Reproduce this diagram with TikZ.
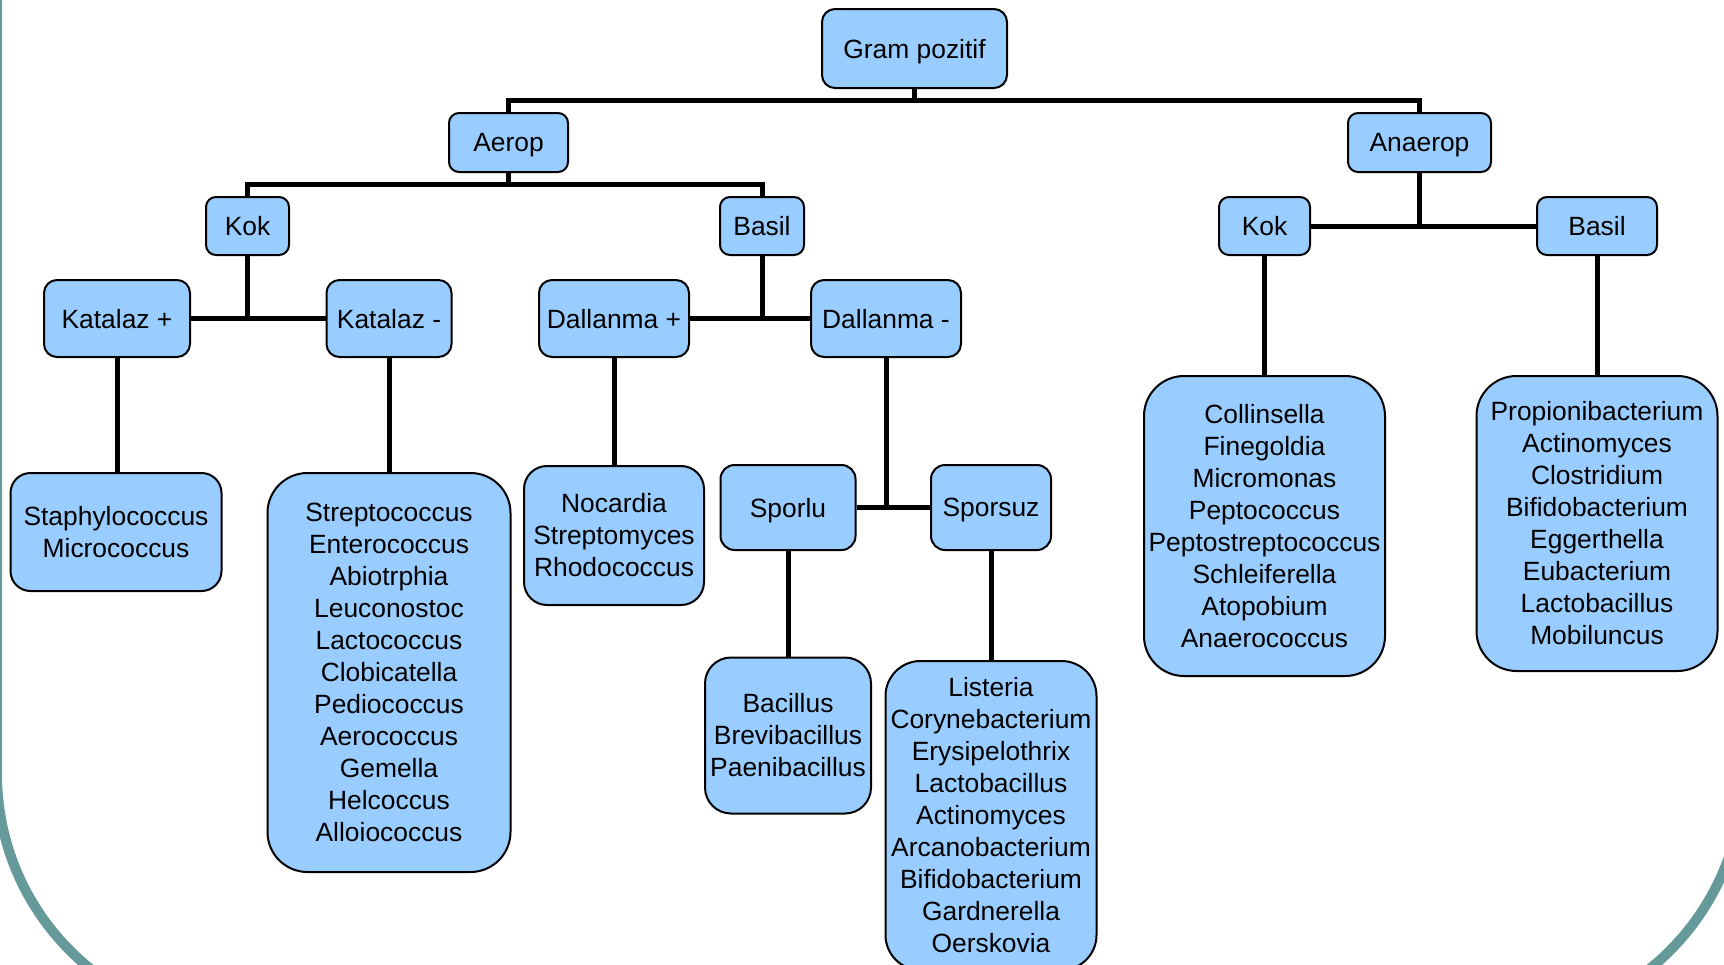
\documentclass[tikz,border=0pt]{standalone}
\usepackage{fontspec}
\setmainfont{Liberation Sans}
\definecolor{boxblue}{RGB}{153,204,255}
\definecolor{frameteal}{RGB}{102,153,153}
\newcommand\bxfont{\fontsize{26.4}{32}\selectfont}
\tikzset{
  bx/.style={draw=black, line width=2pt, fill=boxblue, rounded corners=#1, inner sep=0pt, align=center, font=\bxfont},
  one/.style={text depth=0pt},
  con/.style={line width=5pt, draw=black}
}
\begin{document}
\begin{tikzpicture}[x=1pt, y=-1pt]
\useasboundingbox (0,0) rectangle (1724,964);
\begin{scope}
  \clip (0,0) rectangle (1724,964);
  \draw[frameteal, line width=10pt, rounded corners=250pt] (-3,-300) rectangle (1743,1024);
\end{scope}

% nodes
\node[bx=13pt, one, minimum width=185pt, minimum height=79pt] (gram) at (914.5,48.5) {Gram pozitif};
\node[bx=10pt, one, minimum width=119pt, minimum height=59pt] (aerop) at (508.5,142.5) {Aerop};
\node[bx=10pt, one, minimum width=143pt, minimum height=59pt] (anaerop) at (1419.5,142.5) {Anaerop};
\node[bx=10pt, one, minimum width=83pt, minimum height=58pt] (kokA) at (247.5,226) {Kok};
\node[bx=10pt, one, minimum width=84pt, minimum height=58pt] (basilA) at (762,226) {Basil};
\node[bx=13pt, one, minimum width=146pt, minimum height=77pt] (katp) at (117,318.5) {Katalaz +};
\node[bx=13pt, one, minimum width=125pt, minimum height=77pt] (katm) at (389,318.5) {Katalaz -};
\node[bx=13pt, one, minimum width=150pt, minimum height=77pt] (dalp) at (614,318.5) {Dallanma +};
\node[bx=13pt, one, minimum width=150pt, minimum height=77pt] (dalm) at (886,318.5) {Dallanma -};
\node[bx=20pt, minimum width=211pt, minimum height=118pt] (staph) at (116,532) {Staphylococcus\\Micrococcus};
\node[bx=40pt, minimum width=243pt, minimum height=399pt] (strep) at (389,672.5) {Streptococcus\\Enterococcus\\Abiotrphia\\Leuconostoc\\Lactococcus\\Clobicatella\\Pediococcus\\Aerococcus\\Gemella\\Helcoccus\\Alloiococcus};
\node[bx=23pt, minimum width=180pt, minimum height=139pt] (noc) at (614,535.5) {Nocardia\\Streptomyces\\Rhodococcus};
\node[bx=14pt, one, minimum width=135pt, minimum height=85pt] (sporlu) at (788,507.5) {Sporlu};
\node[bx=14pt, one, minimum width=120pt, minimum height=85pt] (sporsuz) at (991,507.5) {Sporsuz};
\node[bx=26pt, minimum width=166pt, minimum height=156pt] (bac) at (788,735.5) {Bacillus\\Brevibacillus\\Paenibacillus};
\node[bx=35pt, minimum width=211pt, minimum height=309pt] (list) at (991,815.5) {Listeria\\Corynebacterium\\Erysipelothrix\\Lactobacillus\\Actinomyces\\Arcanobacterium\\Bifidobacterium\\Gardnerella\\Oerskovia};
\node[bx=10pt, one, minimum width=91pt, minimum height=58pt] (kokB) at (1264.5,226) {Kok};
\node[bx=10pt, one, minimum width=120pt, minimum height=58pt] (basilB) at (1597,226) {Basil};
\node[bx=40pt, minimum width=241pt, minimum height=300pt] (coll) at (1264.5,526) {Collinsella\\Finegoldia\\Micromonas\\Peptococcus\\Peptostreptococcus\\Schleiferella\\Atopobium\\Anaerococcus};
\node[bx=40pt, minimum width=241pt, minimum height=295pt] (prop) at (1597,523.5) {Propionibacterium\\Actinomyces\\Clostridium\\Bifidobacterium\\Eggerthella\\Eubacterium\\Lactobacillus\\Mobiluncus};

% junctions
\coordinate (j1) at (914.5,100);
\coordinate (j2) at (508.5,184);

% connectors
\draw[con] (gram.south) -- (j1);
\draw[con] (aerop.north) |- (j1) -| (anaerop.north);
\draw[con] (aerop.south) -- (j2);
\draw[con] (kokA.north) |- (j2) -| (basilA.north);
\draw[con] (katp.east) -- (katm.west);
\draw[con] (kokA.south) -- (kokA.south |- katp.east);
\draw[con] (dalp.east) -- (dalm.west);
\draw[con] (basilA.south) -- (basilA.south |- dalp.east);
\draw[con] (katp.south) -- (katp.south |- staph.north);
\draw[con] (katm.south) -- (strep.north);
\draw[con] (dalp.south) -- (noc.north);
\draw[con] (sporlu.east) -- (sporsuz.west);
\draw[con] (dalm.south) -- (dalm.south |- sporlu.east);
\draw[con] (sporlu.south) -- (bac.north);
\draw[con] (sporsuz.south) -- (list.north);
\draw[con] (kokB.east) -- (basilB.west);
\draw[con] (anaerop.south) -- (anaerop.south |- kokB.east);
\draw[con] (kokB.south) -- (coll.north);
\draw[con] (basilB.south) -- (prop.north);
\end{tikzpicture}
\end{document}
